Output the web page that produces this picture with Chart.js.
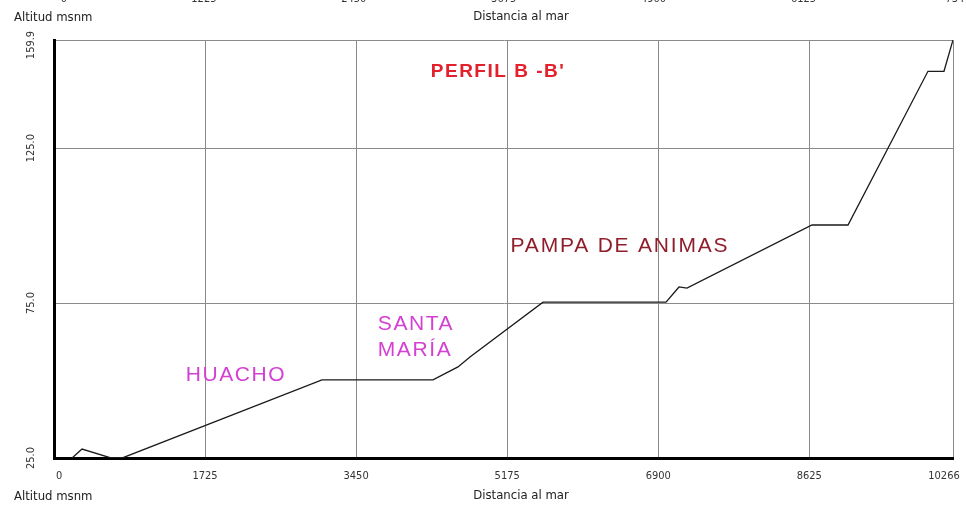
<!DOCTYPE html>
<html>
<head>
<meta charset="utf-8">
<script src="https://cdn.jsdelivr.net/npm/chart.js@4/dist/chart.umd.min.js"></script>
<style>
  html, body { margin: 0; padding: 0; background: #fff; }
  canvas { display: block; }
</style>
</head>
<body>
<canvas id="perfil" width="966" height="505"></canvas>
<script>
// Perfil B-B' : distancia al mar (m) vs altitud (msnm)
const distancia = [206, 320, 640, 788, 3060, 4328, 4613, 4750, 5584, 6989, 7137, 7228, 8656, 9067, 9980, 10163, 10266];
const altitud   = [25.0, 27.9, 25.1, 25.1, 50.2, 50.2, 54.4, 57.6, 75.3, 75.3, 80.2, 79.8, 100.2, 100.2, 149.8, 149.8, 159.9];

const ticksDistancia    = [0, 1725, 3450, 5175, 6900, 8625, 10266];
const ticksDistanciaSup = [0, 1225, 2450, 3675, 4900, 6125, 7347];
const ticksAltitud      = [25.0, 75.0, 125.0, 159.9];

const tituloX = "Distancia al mar";
const tituloY = "Altitud msnm";

const fuenteEje = "11px 'Liberation Sans Narrow', 'DejaVu Sans Condensed', 'Liberation Sans', sans-serif";
const fuenteTitulo = "13px 'Liberation Sans Narrow', 'DejaVu Sans Condensed', 'Liberation Sans', sans-serif";

// textos del perfil
const rotulos = [
  { texto: "PERFIL B -B'", x: 498, y: 72, color: "#e3202b", font: "bold 19px 'Liberation Sans', Arial, sans-serif", esp: "1.5px" },
  { texto: "PAMPA DE ANIMAS", x: 620, y: 246, color: "#8e1f2a", font: "21px 'Liberation Sans', Arial, sans-serif", esp: "1.8px" },
  { texto: "SANTA", x: 416, y: 324, color: "#d43fd4", font: "21px 'Liberation Sans', Arial, sans-serif", esp: "1.6px" },
  { texto: "MARÍA", x: 415, y: 350, color: "#d43fd4", font: "21px 'Liberation Sans', Arial, sans-serif", esp: "1.6px" },
  { texto: "HUACHO", x: 236, y: 375, color: "#d43fd4", font: "21px 'Liberation Sans', Arial, sans-serif", esp: "1.6px" }
];

const textosPlugin = {
  id: "textos",
  afterDraw(chart) {
    const ctx = chart.ctx;
    const area = chart.chartArea;
    const x = chart.scales.x;
    const x2 = chart.scales.x2;
    const y = chart.scales.y;
    ctx.save();

    // etiquetas eje inferior
    ctx.font = fuenteEje;
    ctx.fillStyle = "#333";
    ctx.textBaseline = "middle";
    ticksDistancia.forEach((v, i) => {
      let px = x.getPixelForValue(v);
      ctx.textAlign = "center";
      if (i === 0) { ctx.textAlign = "left"; px = area.left + 2; }
      if (i === ticksDistancia.length - 1) px -= 9;
      ctx.fillText(String(v), px, 476);
    });

    // etiquetas eje superior (cortadas por el borde)
    ticksDistanciaSup.forEach((v, i) => {
      let px = x2.getPixelForValue(v);
      ctx.textAlign = "center";
      if (i === 0) px += 10;
      if (i === ticksDistanciaSup.length - 1) px += 5;
      ctx.fillText(String(v), px, -1);
    });

    // etiquetas eje y, giradas
    ticksAltitud.forEach(v => {
      let py = y.getPixelForValue(v);
      if (py < area.top + 4) py = area.top + 5;
      ctx.save();
      ctx.translate(31, py);
      ctx.rotate(-Math.PI / 2);
      ctx.textAlign = "center";
      ctx.fillText(v.toFixed(1), 0, 0);
      ctx.restore();
    });

    // titulos de ejes arriba y abajo
    ctx.font = fuenteTitulo;
    ctx.fillStyle = "#222";
    ctx.textAlign = "left";
    ctx.fillText(tituloY, 14, 18);
    ctx.fillText(tituloY, 14, 497);
    ctx.textAlign = "center";
    ctx.fillText(tituloX, 521, 17);
    ctx.fillText(tituloX, 521, 496);

    // rotulos del perfil
    rotulos.forEach(r => {
      ctx.font = r.font;
      ctx.letterSpacing = r.esp;
      ctx.fillStyle = r.color;
      ctx.textAlign = "center";
      ctx.fillText(r.texto, r.x, r.y);
    });
    ctx.letterSpacing = "0px";
    ctx.restore();
  }
};

const ctx = document.getElementById("perfil").getContext("2d");
new Chart(ctx, {
  type: "scatter",
  data: {
    datasets: [{
      data: distancia.map((d, i) => ({ x: d, y: altitud[i] })),
      showLine: true,
      borderColor: "#1a1a1a",
      borderWidth: 1.3,
      pointRadius: 0,
      tension: 0
    }]
  },
  options: {
    responsive: false,
    animation: false,
    devicePixelRatio: 1,
    layout: { padding: { left: 54, right: 13, top: 40, bottom: 47 } },
    plugins: { legend: { display: false }, tooltip: { enabled: false } },
    scales: {
      x: {
        type: "linear",
        position: "bottom",
        min: 0,
        max: 10266,
        afterBuildTicks: s => { s.ticks = ticksDistancia.map(v => ({ value: v })); },
        ticks: { display: false },
        grid: { color: "#8a8a8a", lineWidth: 1, drawTicks: false },
        border: { display: true, color: "#000", width: 3 }
      },
      x2: {
        type: "linear",
        position: "top",
        min: 0,
        max: 7347,
        display: false
      },
      y: {
        type: "linear",
        min: 25,
        max: 159.9,
        afterBuildTicks: s => { s.ticks = ticksAltitud.map(v => ({ value: v })); },
        ticks: { display: false },
        grid: { color: "#8a8a8a", lineWidth: 1, drawTicks: false },
        border: { display: true, color: "#000", width: 3 }
      }
    }
  },
  plugins: [textosPlugin]
});
</script>
</body>
</html>
